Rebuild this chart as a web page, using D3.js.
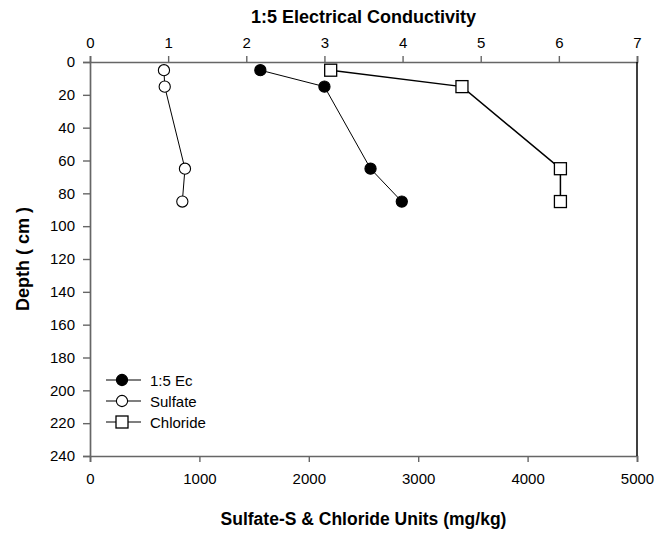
<!DOCTYPE html>
<html><head><meta charset="utf-8">
<script src="https://cdn.jsdelivr.net/npm/d3@7"></script>
<style>body{margin:0;background:#fff}svg{display:block}text{font-family:"Liberation Sans",Arial,sans-serif}</style>
</head><body>
<svg id="c" width="658" height="533"></svg>
<script>
const depths = [5, 15, 65, 85];
const ecValues = [2.18, 3.0, 3.59, 3.99];          // 1:5 EC (top axis)
const sulfateValues = [676, 683, 868, 844];       // mg/kg (bottom axis)
const chlorideValues = [2200, 3400, 4300, 4300];  // mg/kg (bottom axis)
const ecTicks = [0,1,2,3,4,5,6,7];
const mgTicks = [0,1000,2000,3000,4000,5000];
const depthTicks = [0,20,40,60,80,100,120,140,160,180,200,220,240];
const legendLabels = ["1:5 Ec", "Sulfate", "Chloride"];

const L=90, R=637, T=62, B=456;
const svg = d3.select("#c");
const xEC = d3.scaleLinear().domain([0,7]).range([L,R]);
const xMg = d3.scaleLinear().domain([0,5000]).range([L,R]);
const y = d3.scaleLinear().domain([0,240]).range([T,B]);

const axisColor = "#666";
function style(g){
  g.selectAll("path").attr("stroke",axisColor).attr("stroke-width",1.7);
  g.selectAll("line").attr("stroke",axisColor).attr("stroke-width",1.4);
  g.selectAll("text").attr("font-size","15px").attr("fill","#000").attr("font-family","Liberation Sans, Arial, sans-serif");
}
svg.append("g").attr("transform",`translate(0,${T})`)
  .call(d3.axisTop(xEC).tickValues(ecTicks).tickFormat(d3.format("d")).tickSizeOuter(0).tickSize(6).tickPadding(8)).call(style);
svg.append("g").attr("transform",`translate(0,${B})`)
  .call(d3.axisBottom(xMg).tickValues(mgTicks).tickFormat(d3.format("d")).tickSizeOuter(0).tickSize(6).tickPadding(11)).call(style);
svg.append("g").attr("transform",`translate(${L},0)`)
  .call(d3.axisLeft(y).tickValues(depthTicks).tickFormat(d3.format("d")).tickSizeOuter(0).tickSize(7).tickPadding(8)).call(style);
// right frame line
svg.append("line").attr("x1",R).attr("x2",R).attr("y1",T).attr("y2",B).attr("stroke","#000").attr("stroke-width",1.5);

// titles
svg.append("text").attr("x",(L+R)/2).attr("y",23).attr("text-anchor","middle")
  .attr("font-size","18px").attr("font-weight","bold").text("1:5 Electrical Conductivity");
svg.append("text").attr("x",(L+R)/2).attr("y",525).attr("text-anchor","middle")
  .attr("font-size","17.5px").attr("font-weight","bold").text("Sulfate-S & Chloride Units (mg/kg)");
svg.append("text").attr("transform",`translate(29,${(T+B)/2}) rotate(-90)`).attr("text-anchor","middle")
  .attr("font-size","18px").attr("font-weight","bold").text("Depth ( cm )");

const line = (xs, vals) => d3.line().x((d,i)=>xs(vals[i])).y(d=>y(d));
function drawSeries(xs, vals, shape, fill, lw){
  svg.append("path").datum(depths).attr("d", line(xs, vals)).attr("fill","none").attr("stroke","#000").attr("stroke-width",lw);
  const g = svg.append("g");
  depths.forEach((d,i)=>{ marker(g, xs(vals[i]), y(d), shape, fill); });
}
function marker(g, cx, cy, shape, fill){
  if(shape==="circle"){
    g.append("circle").attr("cx",cx).attr("cy",cy).attr("r",5.6).attr("fill",fill).attr("stroke","#000").attr("stroke-width",1.1);
  } else {
    g.append("rect").attr("x",cx-6).attr("y",cy-6).attr("width",12).attr("height",12).attr("fill",fill).attr("stroke","#000").attr("stroke-width",1.3);
  }
}
drawSeries(xEC, ecValues, "circle", "#000", 1);
drawSeries(xMg, sulfateValues, "circle", "#fff", 1);
drawSeries(xMg, chlorideValues, "square", "#fff", 1.5);

// legend
const legShapes = [["circle","#000"],["circle","#fff"],["square","#fff"]];
const lg = svg.append("g");
legendLabels.forEach((lab,i)=>{
  const yy = 380 + i*21;
  lg.append("line").attr("x1",106).attr("x2",141).attr("y1",yy).attr("y2",yy).attr("stroke","#000").attr("stroke-width",1.2);
  marker(lg, 122, yy, legShapes[i][0], legShapes[i][1]);
  lg.append("text").attr("x",150).attr("y",yy+5.5).attr("font-size","15px").text(lab);
});
</script>
</body></html>
